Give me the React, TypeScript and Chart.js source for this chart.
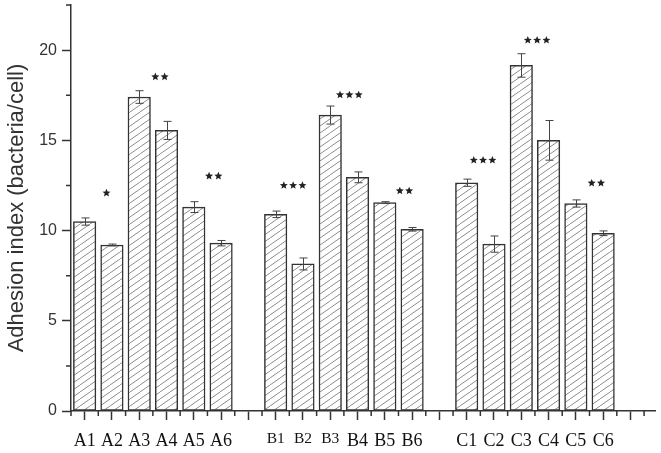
import React, { useEffect, useRef } from 'react';
import { Chart, registerables } from 'chart.js';

Chart.register(...registerables);

// Slot labels along the x axis ('' = empty gap slot)
const slotLabels = ['A1', 'A2', 'A3', 'A4', 'A5', 'A6', '', 'B1', 'B2', 'B3', 'B4', 'B5', 'B6', '', 'C1', 'C2', 'C3', 'C4', 'C5', 'C6', ''];
// Adhesion index (bacteria/cell)
const adhesion: (number | null)[] = [10.5, 9.2, 17.4, 15.55, 11.3, 9.3, null, 10.9, 8.15, 16.4, 12.95, 11.55, 10.07, null, 12.65, 9.25, 19.15, 15.0, 11.5, 9.85, null];
// Error (± half-length)
const errors: (number | null)[] = [0.2, 0.05, 0.35, 0.5, 0.3, 0.15, null, 0.18, 0.33, 0.5, 0.3, 0.05, 0.1, null, 0.2, 0.45, 0.65, 1.1, 0.2, 0.13, null];
// Y axis tick labels
const yTicks = [0, 5, 10, 15, 20];
// Significance marks
const starMarks = ['*', '**', '**', '***', '***', '**', '***', '***', '**'];
const starX = [0.8, 2.76, 4.73, 7.64, 9.7, 11.72, 14.6, 16.58, 18.75];
const starY = [12.08, 18.52, 13.02, 12.5, 17.52, 12.2, 13.9, 20.55, 12.63];

function drawStar(ctx: CanvasRenderingContext2D, cx: number, cy: number, r: number) {
  const inner = r * 0.45;
  ctx.beginPath();
  for (let k = 0; k < 10; k++) {
    const rad = k % 2 === 0 ? r : inner;
    const a = -Math.PI / 2 + (k * Math.PI) / 5;
    const px = cx + rad * Math.cos(a);
    const py = cy + rad * Math.sin(a);
    if (k === 0) ctx.moveTo(px, py);
    else ctx.lineTo(px, py);
  }
  ctx.closePath();
  ctx.fill();
}

const overlay = {
  id: 'overlay',
  afterDatasetsDraw(chart: any) {
    const { ctx } = chart;
    const x = chart.scales.x;
    const y = chart.scales.y;
    ctx.save();
    // error bars
    ctx.strokeStyle = '#444';
    ctx.lineWidth = 1;
    adhesion.forEach((v, i) => {
      const e = errors[i];
      if (v == null || e == null) return;
      const px = Math.round(x.getPixelForValue(i)) + 0.5;
      const top = y.getPixelForValue(v + e);
      const bot = y.getPixelForValue(v - e);
      ctx.beginPath();
      ctx.moveTo(px, top);
      ctx.lineTo(px, bot);
      ctx.moveTo(px - 4, top);
      ctx.lineTo(px + 4, top);
      ctx.moveTo(px - 4, bot);
      ctx.lineTo(px + 4, bot);
      ctx.stroke();
    });
    // stars
    ctx.fillStyle = '#222';
    starMarks.forEach((m, i) => {
      const n = m.length;
      const cx = x.getPixelForValue(starX[i]);
      const cy = y.getPixelForValue(starY[i]);
      const sp = 9.3;
      for (let k = 0; k < n; k++) {
        drawStar(ctx, cx + (k - (n - 1) / 2) * sp, cy, 4.2);
      }
    });
    // minor ticks
    ctx.strokeStyle = '#333';
    ctx.lineWidth = 1.5;
    ctx.beginPath();
    for (let v = 2.5; v <= 22.5; v += 5) {
      const py = y.getPixelForValue(v);
      ctx.moveTo(chart.chartArea.left - 5, py);
      ctx.lineTo(chart.chartArea.left, py);
    }
    for (let v = -0.5; v <= x.max; v += 1) {
      const px = x.getPixelForValue(v);
      ctx.moveTo(px, chart.chartArea.bottom);
      ctx.lineTo(px, chart.chartArea.bottom + 5);
    }
    ctx.stroke();
    ctx.restore();
  },
};

export default function App() {
  const ref = useRef<HTMLCanvasElement>(null);
  useEffect(() => {
    const canvas = ref.current!;
    const tile = document.createElement('canvas');
    tile.width = 10;
    tile.height = 7;
    const t = tile.getContext('2d')!;
    t.fillStyle = '#ffffff';
    t.fillRect(0, 0, 10, 7);
    t.strokeStyle = '#8c8c8c';
    t.lineWidth = 1;
    t.beginPath();
    t.moveTo(-1, 7.7);
    t.lineTo(11, -0.7);
    t.stroke();
    const pattern = canvas.getContext('2d')!.createPattern(tile, 'repeat')!;

    const data = adhesion
      .map((v, i) => ({ x: i, y: v }))
      .filter((p) => p.y != null);

    const chart = new Chart(canvas, {
      type: 'bar',
      data: {
        datasets: [
          {
            data: data as any,
            backgroundColor: pattern as any,
            borderColor: '#333',
            borderWidth: 1.5,
            borderSkipped: false,
            barThickness: 22.5,
          },
        ],
      },
      options: {
        animation: false,
        responsive: true,
        maintainAspectRatio: false,
        layout: { padding: { top: 5, right: 6, left: 0, bottom: 0 } },
        plugins: { legend: { display: false }, tooltip: { enabled: false } },
        scales: {
          x: {
            type: 'linear',
            offset: false,
            min: -0.5,
            max: 20.9,
            afterBuildTicks: (scale: any) => {
              scale.ticks = slotLabels.map((_, i) => ({ value: i }));
            },
            afterFit: (scale: any) => {
              scale.height = 42;
              scale.paddingLeft = 0;
              scale.paddingRight = 0;
            },
            grid: { drawOnChartArea: false, tickLength: 9, tickColor: '#333', tickWidth: 1.5, offset: false },
            border: { display: true, color: '#333', width: 1.5 },
            ticks: {
              autoSkip: false,
              maxRotation: 0,
              padding: 10,
              color: '#111',
              font: (ctx: any) => {
                const idx = ctx.tick ? ctx.tick.value : ctx.index;
                const small = idx >= 7 && idx <= 9;
                return { family: 'Liberation Serif', size: small ? 15.5 : 18 };
              },
              callback: (value: any) => slotLabels[value] ?? '',
            },
          },
          y: {
            min: 0,
            max: 22.5,
            afterBuildTicks: (scale: any) => {
              scale.ticks = yTicks.map((v) => ({ value: v }));
            },
            afterFit: (scale: any) => {
              scale.width = 71;
              scale.paddingTop = 0;
              scale.paddingBottom = 0;
            },
            grid: { drawOnChartArea: false, tickLength: 9, tickColor: '#333', tickWidth: 1.5 },
            border: { display: true, color: '#333', width: 1.5 },
            ticks: {
              padding: 5,
              color: '#333',
              font: { family: 'Liberation Sans', size: 16 },
            },
            title: {
              display: true,
              text: 'Adhesion index (bacteria/cell)',
              color: '#333',
              font: { family: 'Liberation Sans', size: 22 },
              padding: { top: 4, bottom: 0 },
            },
          },
        },
      },
      plugins: [overlay],
    });
    return () => chart.destroy();
  }, []);

  return (
    <div style={{ position: 'fixed', left: 0, top: 0, width: 661, height: 453, background: '#fff' }}>
      <canvas ref={ref} />
    </div>
  );
}
